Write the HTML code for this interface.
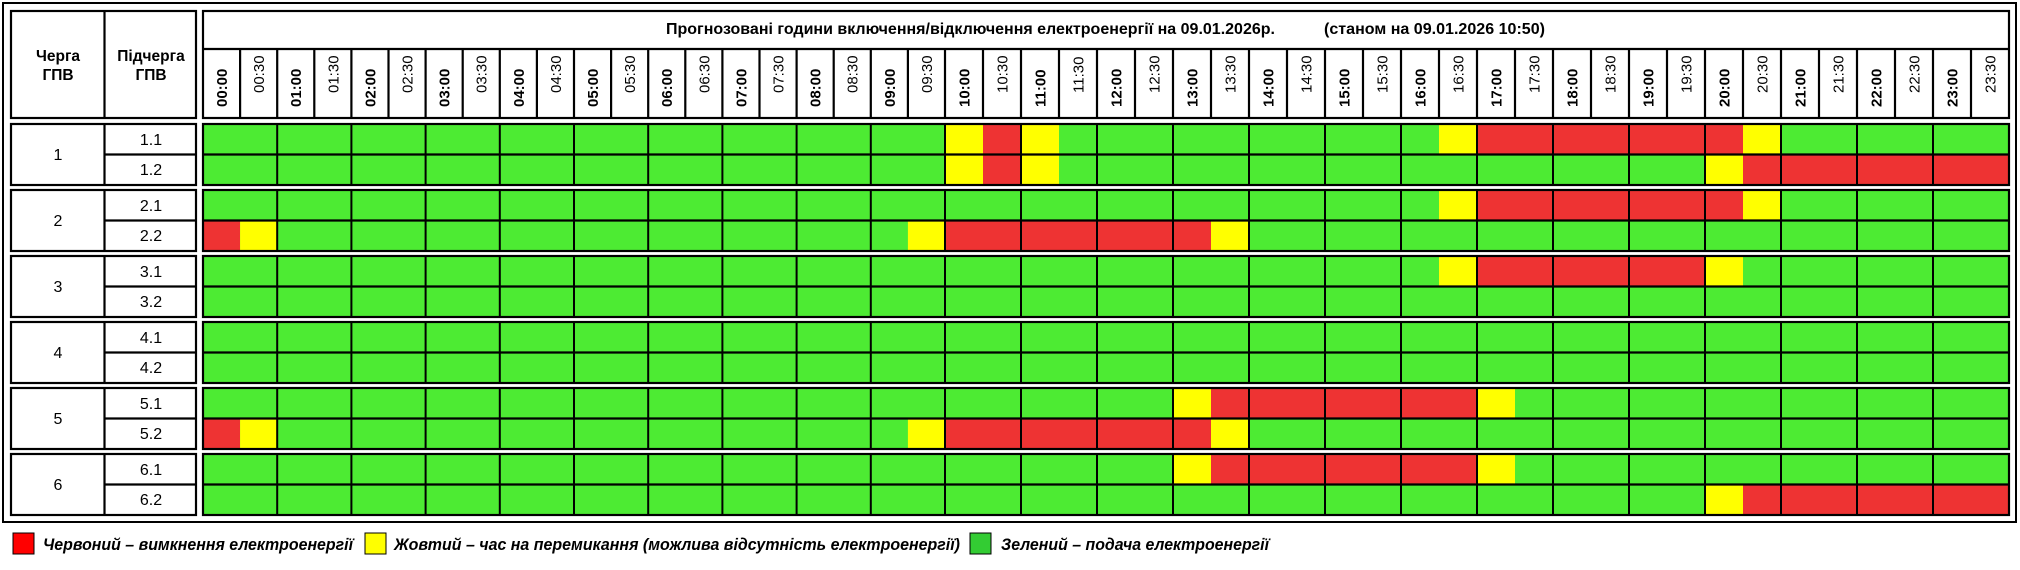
<!DOCTYPE html>
<html><head><meta charset="utf-8"><style>
html,body{margin:0;padding:0;background:#fff;width:2020px;height:570px;overflow:hidden}
svg{display:block}
text{font-family:"Liberation Sans",sans-serif;fill:#000}
</style></head><body>
<svg width="2020" height="570" viewBox="0 0 2020 570" xmlns="http://www.w3.org/2000/svg">
<rect x="3" y="3" width="2013" height="519" fill="none" stroke="#000" stroke-width="2"/>
<g fill="#4deb33">
<rect x="203" y="124" width="1806" height="61"/>
<rect x="203" y="190" width="1806" height="61"/>
<rect x="203" y="256" width="1806" height="61"/>
<rect x="203" y="322" width="1806" height="61"/>
<rect x="203" y="388" width="1806" height="61"/>
<rect x="203" y="454" width="1806" height="61"/>
</g>
<g fill="#ee3333">
<rect x="983" y="124" width="38" height="30.5"/>
<rect x="1477" y="124" width="266" height="30.5"/>
<rect x="983" y="154.5" width="38" height="30.5"/>
<rect x="1743" y="154.5" width="266" height="30.5"/>
<rect x="1477" y="190" width="266" height="30.5"/>
<rect x="203" y="220.5" width="37.1" height="30.5"/>
<rect x="945" y="220.5" width="266" height="30.5"/>
<rect x="1477" y="256" width="228" height="30.5"/>
<rect x="1211" y="388" width="266" height="30.5"/>
<rect x="203" y="418.5" width="37.1" height="30.5"/>
<rect x="945" y="418.5" width="266" height="30.5"/>
<rect x="1211" y="454" width="266" height="30.5"/>
<rect x="1743" y="484.5" width="266" height="30.5"/>
</g>
<g fill="#ffff00">
<rect x="945" y="124" width="38" height="30.5"/>
<rect x="1021" y="124" width="38" height="30.5"/>
<rect x="1439" y="124" width="38" height="30.5"/>
<rect x="1743" y="124" width="38" height="30.5"/>
<rect x="945" y="154.5" width="38" height="30.5"/>
<rect x="1021" y="154.5" width="38" height="30.5"/>
<rect x="1705" y="154.5" width="38" height="30.5"/>
<rect x="1439" y="190" width="38" height="30.5"/>
<rect x="1743" y="190" width="38" height="30.5"/>
<rect x="240.1" y="220.5" width="37.1" height="30.5"/>
<rect x="907.9" y="220.5" width="37.1" height="30.5"/>
<rect x="1211" y="220.5" width="38" height="30.5"/>
<rect x="1439" y="256" width="38" height="30.5"/>
<rect x="1705" y="256" width="38" height="30.5"/>
<rect x="1173" y="388" width="38" height="30.5"/>
<rect x="1477" y="388" width="38" height="30.5"/>
<rect x="240.1" y="418.5" width="37.1" height="30.5"/>
<rect x="907.9" y="418.5" width="37.1" height="30.5"/>
<rect x="1211" y="418.5" width="38" height="30.5"/>
<rect x="1173" y="454" width="38" height="30.5"/>
<rect x="1477" y="454" width="38" height="30.5"/>
<rect x="1705" y="484.5" width="38" height="30.5"/>
</g>
<g stroke="#000" stroke-width="2">
<path d="M277.2 124V515M351.4 124V515M425.6 124V515M499.8 124V515M574 124V515M648.2 124V515M722.4 124V515M796.6 124V515M870.8 124V515M945 124V515M1021 124V515M1097 124V515M1173 124V515M1249 124V515M1325 124V515M1401 124V515M1477 124V515M1553 124V515M1629 124V515M1705 124V515M1781 124V515M1857 124V515M1933 124V515"/>
</g>
<g fill="#fff">
<rect x="200" y="186" width="1812" height="3"/>
<rect x="200" y="252" width="1812" height="3"/>
<rect x="200" y="318" width="1812" height="3"/>
<rect x="200" y="384" width="1812" height="3"/>
<rect x="200" y="450" width="1812" height="3"/>
</g>
<g fill="none" stroke="#000" stroke-width="2.2">
<rect x="11" y="11" width="185" height="107"/>
<path d="M104.5 11V118"/>
<rect x="203" y="11" width="1806" height="107"/>
<path d="M203 49H2009"/>
<path d="M240.1 49V118M277.2 49V118M314.3 49V118M351.4 49V118M388.5 49V118M425.6 49V118M462.7 49V118M499.8 49V118M536.9 49V118M574 49V118M611.1 49V118M648.2 49V118M685.3 49V118M722.4 49V118M759.5 49V118M796.6 49V118M833.7 49V118M870.8 49V118M907.9 49V118M945 49V118M983 49V118M1021 49V118M1059 49V118M1097 49V118M1135 49V118M1173 49V118M1211 49V118M1249 49V118M1287 49V118M1325 49V118M1363 49V118M1401 49V118M1439 49V118M1477 49V118M1515 49V118M1553 49V118M1591 49V118M1629 49V118M1667 49V118M1705 49V118M1743 49V118M1781 49V118M1819 49V118M1857 49V118M1895 49V118M1933 49V118M1971 49V118"/>
<rect x="11" y="124" width="185" height="61"/><path d="M104.5 124V185M104.5 154.5H196M203 154.5H2009"/><rect x="203" y="124" width="1806" height="61"/>
<rect x="11" y="190" width="185" height="61"/><path d="M104.5 190V251M104.5 220.5H196M203 220.5H2009"/><rect x="203" y="190" width="1806" height="61"/>
<rect x="11" y="256" width="185" height="61"/><path d="M104.5 256V317M104.5 286.5H196M203 286.5H2009"/><rect x="203" y="256" width="1806" height="61"/>
<rect x="11" y="322" width="185" height="61"/><path d="M104.5 322V383M104.5 352.5H196M203 352.5H2009"/><rect x="203" y="322" width="1806" height="61"/>
<rect x="11" y="388" width="185" height="61"/><path d="M104.5 388V449M104.5 418.5H196M203 418.5H2009"/><rect x="203" y="388" width="1806" height="61"/>
<rect x="11" y="454" width="185" height="61"/><path d="M104.5 454V515M104.5 484.5H196M203 484.5H2009"/><rect x="203" y="454" width="1806" height="61"/>
</g>
<g font-weight="bold" font-size="15.5" text-anchor="middle">
<text x="58" y="61">Черга</text><text x="58" y="80">ГПВ</text>
<text x="151" y="61">Підчерга</text><text x="151" y="80">ГПВ</text>
</g>
<text x="666" y="34" font-size="16" font-weight="bold" textLength="609" lengthAdjust="spacingAndGlyphs">Прогнозовані години включення/відключення електроенергії на 09.01.2026р.</text>
<text x="1324" y="34" font-size="16" font-weight="bold" textLength="221" lengthAdjust="spacingAndGlyphs">(станом на 09.01.2026 10:50)</text>
<g font-size="15" font-weight="bold">
<text transform="translate(227,107) rotate(-90)">00:00</text>
<text transform="translate(301.2,107) rotate(-90)">01:00</text>
<text transform="translate(375.4,107) rotate(-90)">02:00</text>
<text transform="translate(449.6,107) rotate(-90)">03:00</text>
<text transform="translate(523.8,107) rotate(-90)">04:00</text>
<text transform="translate(598,107) rotate(-90)">05:00</text>
<text transform="translate(672.2,107) rotate(-90)">06:00</text>
<text transform="translate(746.4,107) rotate(-90)">07:00</text>
<text transform="translate(820.6,107) rotate(-90)">08:00</text>
<text transform="translate(894.8,107) rotate(-90)">09:00</text>
<text transform="translate(969.5,107) rotate(-90)">10:00</text>
<text transform="translate(1045.5,107) rotate(-90)">11:00</text>
<text transform="translate(1121.5,107) rotate(-90)">12:00</text>
<text transform="translate(1197.5,107) rotate(-90)">13:00</text>
<text transform="translate(1273.5,107) rotate(-90)">14:00</text>
<text transform="translate(1349.5,107) rotate(-90)">15:00</text>
<text transform="translate(1425.5,107) rotate(-90)">16:00</text>
<text transform="translate(1501.5,107) rotate(-90)">17:00</text>
<text transform="translate(1577.5,107) rotate(-90)">18:00</text>
<text transform="translate(1653.5,107) rotate(-90)">19:00</text>
<text transform="translate(1729.5,107) rotate(-90)">20:00</text>
<text transform="translate(1805.5,107) rotate(-90)">21:00</text>
<text transform="translate(1881.5,107) rotate(-90)">22:00</text>
<text transform="translate(1957.5,107) rotate(-90)">23:00</text>
</g>
<g font-size="15">
<text transform="translate(264.1,93) rotate(-90)">00:30</text>
<text transform="translate(338.3,93) rotate(-90)">01:30</text>
<text transform="translate(412.5,93) rotate(-90)">02:30</text>
<text transform="translate(486.7,93) rotate(-90)">03:30</text>
<text transform="translate(560.9,93) rotate(-90)">04:30</text>
<text transform="translate(635.1,93) rotate(-90)">05:30</text>
<text transform="translate(709.3,93) rotate(-90)">06:30</text>
<text transform="translate(783.5,93) rotate(-90)">07:30</text>
<text transform="translate(857.7,93) rotate(-90)">08:30</text>
<text transform="translate(931.9,93) rotate(-90)">09:30</text>
<text transform="translate(1007.5,93) rotate(-90)">10:30</text>
<text transform="translate(1083.5,93) rotate(-90)">11:30</text>
<text transform="translate(1159.5,93) rotate(-90)">12:30</text>
<text transform="translate(1235.5,93) rotate(-90)">13:30</text>
<text transform="translate(1311.5,93) rotate(-90)">14:30</text>
<text transform="translate(1387.5,93) rotate(-90)">15:30</text>
<text transform="translate(1463.5,93) rotate(-90)">16:30</text>
<text transform="translate(1539.5,93) rotate(-90)">17:30</text>
<text transform="translate(1615.5,93) rotate(-90)">18:30</text>
<text transform="translate(1691.5,93) rotate(-90)">19:30</text>
<text transform="translate(1767.5,93) rotate(-90)">20:30</text>
<text transform="translate(1843.5,93) rotate(-90)">21:30</text>
<text transform="translate(1919.5,93) rotate(-90)">22:30</text>
<text transform="translate(1995.5,93) rotate(-90)">23:30</text>
</g>
<g font-size="16" text-anchor="middle">
<text x="58" y="160">1</text><text x="151" y="145">1.1</text><text x="151" y="175">1.2</text>
<text x="58" y="226">2</text><text x="151" y="211">2.1</text><text x="151" y="241">2.2</text>
<text x="58" y="292">3</text><text x="151" y="277">3.1</text><text x="151" y="307">3.2</text>
<text x="58" y="358">4</text><text x="151" y="343">4.1</text><text x="151" y="373">4.2</text>
<text x="58" y="424">5</text><text x="151" y="409">5.1</text><text x="151" y="439">5.2</text>
<text x="58" y="490">6</text><text x="151" y="475">6.1</text><text x="151" y="505">6.2</text>
</g>
<rect x="13" y="533" width="21" height="21" fill="#ff0000" stroke="#000" stroke-width="1"/>
<rect x="365" y="533" width="21" height="21" fill="#ffff00" stroke="#000" stroke-width="1"/>
<rect x="970" y="533" width="21" height="21" fill="#33cc33" stroke="#000" stroke-width="1"/>
<g font-size="17" font-weight="bold" font-style="italic">
<text x="43" y="550" textLength="310" lengthAdjust="spacingAndGlyphs">Червоний – вимкнення електроенергії</text>
<text x="394" y="550" textLength="566" lengthAdjust="spacingAndGlyphs">Жовтий – час на перемикання (можлива відсутність електроенергії)</text>
<text x="1001" y="550" textLength="268" lengthAdjust="spacingAndGlyphs">Зелений – подача електроенергії</text>
</g>
</svg>
</body></html>
